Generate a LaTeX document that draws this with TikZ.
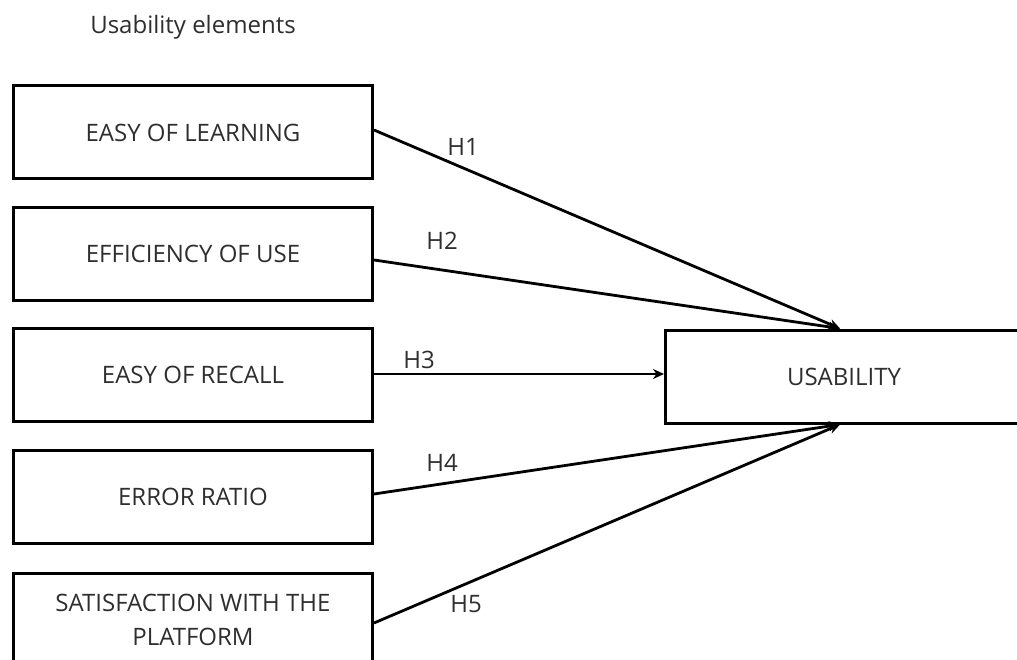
\documentclass[tikz,border=0pt]{standalone}
\usepackage{fontspec}
\setmainfont{Open Sans}
\usetikzlibrary{arrows.meta}
\definecolor{txt}{HTML}{2E2E2E}
\begin{document}
\begin{tikzpicture}[x=1pt,y=-1pt,
  font=\fontsize{24}{29}\selectfont,
  elembox/.style={draw=black,line width=3pt,minimum width=359pt,minimum height=93pt,align=center,text=txt,inner sep=0pt},
  conn/.style={draw=black,line width=2.8pt,-{Stealth[length=11pt,width=10pt]}},
  hlab/.style={text=txt,inner sep=0pt}]
\useasboundingbox (0,0) rectangle (1017,660);
\node[hlab] (title) at (193,27) {Usability elements};
\node[elembox] (b1) at (193,132.5) {EASY OF LEARNING};
\node[elembox] (b2) at (193,254) {EFFICIENCY OF USE};
\node[elembox] (b3) at (193,375) {EASY OF RECALL};
\node[elembox] (b4) at (193,497) {ERROR RATIO};
\node[elembox] (b5) at (193,619.5) {SATISFACTION WITH THE\\[5pt]PLATFORM};
\node[elembox,minimum width=357pt] (u) at (844,376.5) {USABILITY};
\coordinate (ut) at ([xshift=-4pt]u.north);
\coordinate (ub) at ([xshift=-4pt]u.south);
\coordinate (s3) at ([yshift=1pt]b3.east);
\draw[conn] ([yshift=2.5pt]b1.east) -- (ut);
\draw[conn] ([yshift=-6pt]b2.east) -- (ut);
\draw[conn] (s3) -- (s3 -| u.west);
\draw[conn] ([yshift=3pt]b4.east) -- (ub);
\draw[conn] ([yshift=-3.5pt]b5.east) -- (ub);
\node[hlab] (h1) at (463,147) {H1};
\node[hlab] (h2) at (442,241) {H2};
\node[hlab] (h3) at (419,360) {H3};
\node[hlab] (h4) at (442,463) {H4};
\node[hlab] (h5) at (466,604) {H5};
\end{tikzpicture}
\end{document}
